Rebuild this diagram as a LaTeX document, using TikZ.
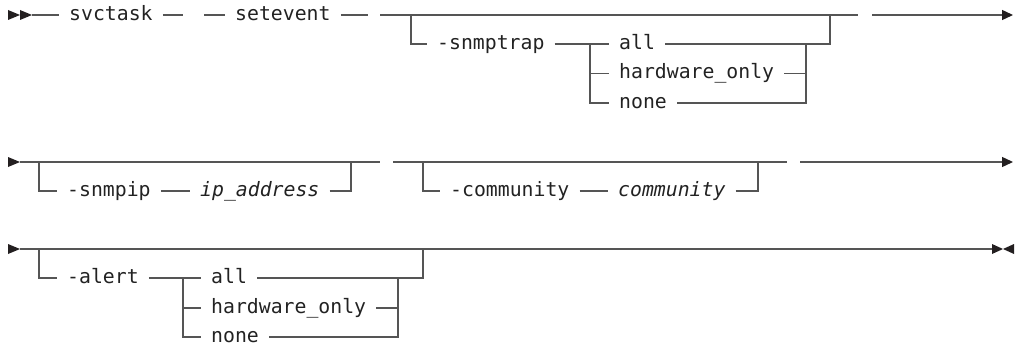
\documentclass[tikz,border=0pt]{standalone}
\usepackage{fontspec}
\newfontfamily\railfont{DejaVu Sans Mono}
\usetikzlibrary{arrows.meta}
\definecolor{railline}{HTML}{555555}
\definecolor{railtext}{HTML}{222222}
\definecolor{railtip}{HTML}{231F20}
\newcommand{\railsize}{\fontsize{19.8}{23}\selectfont}

\begin{document}
\railfont\railsize
\begin{tikzpicture}[x=1pt,y=-1pt,
  rail/.style={draw=railline,line width=1.3pt},
  kw/.style={font=\railfont\railsize,text=railtext,inner xsep=10pt,inner ysep=0pt,anchor=mid west},
  var/.style={kw,font=\railfont\railsize\itshape},
  railend/.style={-{Triangle[length=11pt,width=10pt,color=railtip]}}]
\useasboundingbox (0,0) rectangle (1019,345);

% row 1: svctask setevent [-snmptrap all|hardware_only|none]
\fill[railtip] (8,10) -- (20,15) -- (8,20) -- cycle;
\fill[railtip] (20,10) -- (32,15) -- (20,20) -- cycle;
\coordinate (r1s) at (32,15);
\coordinate (d1a) at (183,15);
\coordinate (d1b) at (204,15);
\coordinate (d1c) at (368,15);
\coordinate (j1) at (380,15);
\coordinate (b1) at (411,15);
\coordinate (m1) at (830,15);
\coordinate (e1) at (858,15);
\coordinate (t1) at (872,15);
\coordinate (f1) at (1013,15);
\coordinate (c1) at (590,44);
\coordinate (r1) at (806,44);
\node[kw] (svctask) at (59,15) {svctask};
\node[kw] (setevent) at (225,15) {setevent};
\node[kw] (snmptrap) at (427,44) {-snmptrap};
\node[kw] (trapall) at (609,44) {all};
\node[kw] (traphw) at (609,73.5) {hardware\_only};
\node[kw] (trapnone) at (609,103) {none};
\draw[rail] (r1s) -- (svctask.mid west);
\draw[rail] (svctask.mid east) -- (d1a);
\draw[rail] (d1b) -- (setevent.mid west);
\draw[rail] (setevent.mid east) -- (d1c);
\draw[rail] (j1) -- (e1);
\draw[rail,railend] (t1) -- (f1);
\draw[rail] (b1) |- (snmptrap.mid west);
\draw[rail] (snmptrap.mid east) -- (trapall.mid west);
\draw[rail] (c1) |- (trapnone.mid west);
\draw[rail] (c1 |- traphw.mid west) -- (traphw.mid west);
\draw[rail] (trapnone.mid east) -| (r1);
\draw[rail] (traphw.mid east) -- (r1 |- traphw.mid east);
\draw[rail] (trapall.mid east) -| (m1);

% row 2: [-snmpip ip_address] [-community community]
\fill[railtip] (8,157) -- (20,162) -- (8,167) -- cycle;
\coordinate (r2s) at (20,162);
\coordinate (b2) at (39,162);
\coordinate (m2a) at (351,162);
\coordinate (j2) at (380,162);
\coordinate (j2b) at (393,162);
\coordinate (b2b) at (423,162);
\coordinate (m2b) at (758,162);
\coordinate (e2) at (787,162);
\coordinate (t2) at (800,162);
\coordinate (f2) at (1013,162);
\node[kw] (snmpip) at (57,191) {-snmpip};
\node[var] (ipaddr) at (190,191) {ip\_address};
\node[kw] (community) at (440,191) {-community};
\node[var] (commval) at (608,191) {community};
\draw[rail] (r2s) -- (j2);
\draw[rail] (b2) |- (snmpip.mid west);
\draw[rail] (snmpip.mid east) -- (ipaddr.mid west);
\draw[rail] (ipaddr.mid east) -| (m2a);
\draw[rail] (j2b) -- (e2);
\draw[rail] (b2b) |- (community.mid west);
\draw[rail] (community.mid east) -- (commval.mid west);
\draw[rail] (commval.mid east) -| (m2b);
\draw[rail,railend] (t2) -- (f2);

% row 3: [-alert all|hardware_only|none]
\fill[railtip] (8,244) -- (20,249) -- (8,254) -- cycle;
\coordinate (r3s) at (20,249);
\coordinate (b3) at (39,249);
\coordinate (m3) at (423,249);
\coordinate (f3) at (992,249);
\coordinate (c3) at (183,278);
\coordinate (r3) at (398,278);
\node[kw] (alert) at (57,278) {-alert};
\node[kw] (alertall) at (201,278) {all};
\node[kw] (alerthw) at (201,308) {hardware\_only};
\node[kw] (alertnone) at (201,337) {none};
\draw[rail] (r3s) -- (f3);
\draw[rail] (b3) |- (alert.mid west);
\draw[rail] (alert.mid east) -- (alertall.mid west);
\draw[rail] (c3) |- (alertnone.mid west);
\draw[rail] (c3 |- alerthw.mid west) -- (alerthw.mid west);
\draw[rail] (alertnone.mid east) -| (r3);
\draw[rail] (alerthw.mid east) -- (r3 |- alerthw.mid east);
\draw[rail] (alertall.mid east) -| (m3);
\fill[railtip] (992,244) -- (1003,249) -- (992,254) -- cycle;
\fill[railtip] (1014,244) -- (1003,249) -- (1014,254) -- cycle;
\end{tikzpicture}
\end{document}
